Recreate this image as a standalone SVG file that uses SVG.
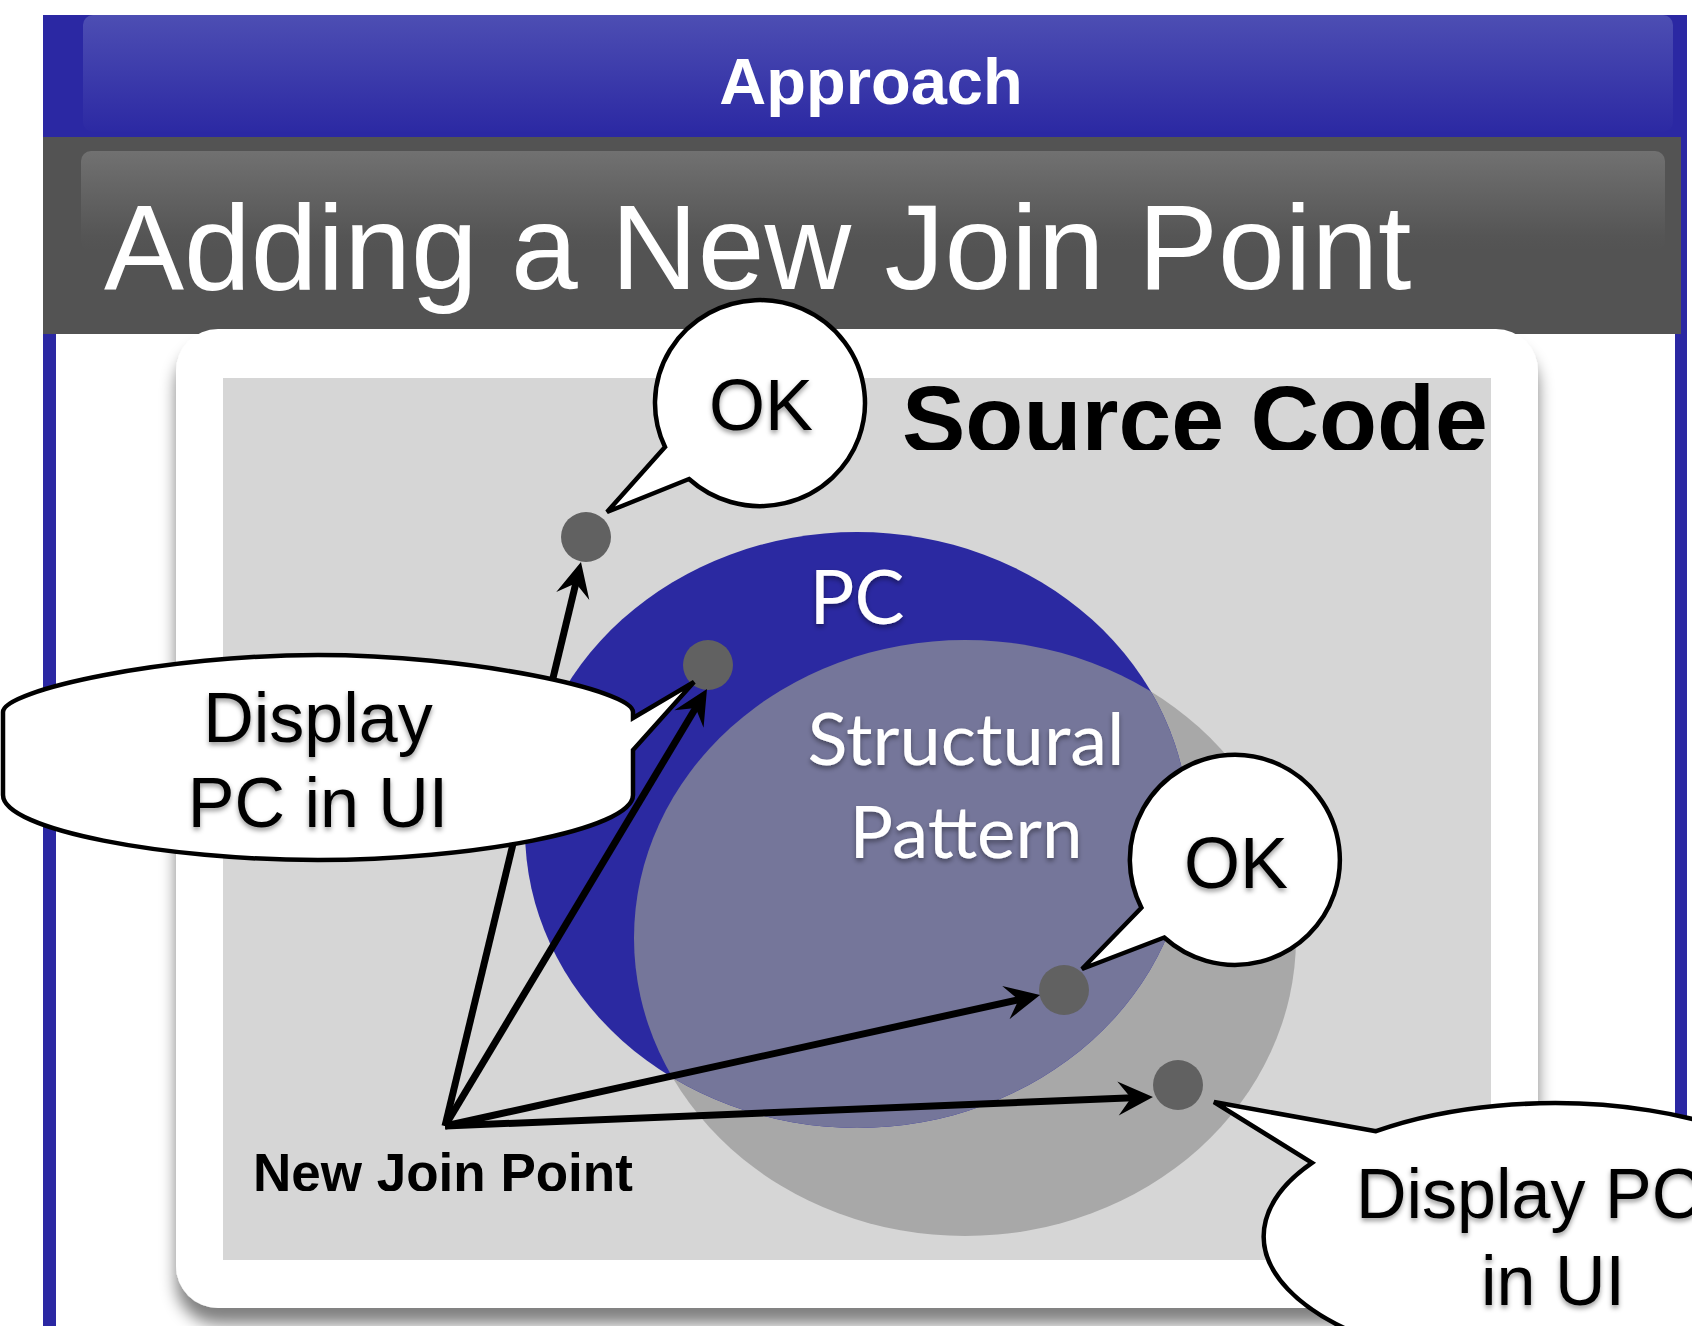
<svg xmlns="http://www.w3.org/2000/svg" width="1692" height="1326" viewBox="0 0 1692 1326">
  <style>
    .sans { font-family: "Liberation Sans", Arial, Helvetica, sans-serif; }
    .bold { font-weight: bold; }
    .gill { font-family: Lato, "Open Sans", "Noto Sans", sans-serif; fill: #ffffff; }
    .bubble { fill: #ffffff; stroke: #000000; stroke-width: 4.5; stroke-linejoin: miter; }
    .dot { fill: #616161; }
    .edge { fill: none; stroke: #000000; stroke-width: 7; stroke-linecap: butt; }
    .label { fill: #000000; }
  </style>
  <defs>
    <linearGradient id="headerGrad" x1="0" y1="0" x2="0" y2="1">
      <stop offset="0" stop-color="#4d4eb3"/>
      <stop offset="1" stop-color="#2c29a3"/>
    </linearGradient>
    <linearGradient id="titleGrad" x1="0" y1="0" x2="0" y2="1">
      <stop offset="0" stop-color="#717171"/>
      <stop offset="0.85" stop-color="#555555"/>
      <stop offset="1" stop-color="#535353"/>
    </linearGradient>
    <filter id="boxShadow" x="-10%" y="-10%" width="120%" height="125%">
      <feGaussianBlur in="SourceAlpha" stdDeviation="8"/>
      <feOffset dx="0" dy="16" result="blur"/>
      <feComponentTransfer result="shade">
        <feFuncA type="linear" slope="0.5"/>
      </feComponentTransfer>
      <feMerge>
        <feMergeNode in="shade"/>
        <feMergeNode in="SourceGraphic"/>
      </feMerge>
    </filter>
    <filter id="textShadow" x="-10%" y="-20%" width="120%" height="150%">
      <feDropShadow dx="0" dy="3" stdDeviation="2.5" flood-color="#000000" flood-opacity="0.4"/>
    </filter>
    <clipPath id="pcClip">
      <ellipse cx="857" cy="830" rx="332" ry="298"/>
    </clipPath>
    <clipPath id="sourceClip">
      <rect x="223" y="378" width="1268" height="72"/>
    </clipPath>
    <clipPath id="joinClip">
      <rect x="223" y="1140" width="700" height="51"/>
    </clipPath>
    <marker id="head" markerUnits="userSpaceOnUse" markerWidth="60" markerHeight="60"
            refX="0" refY="0" orient="auto" overflow="visible">
      <path d="M 20,0 L -15,-17 L -2,0 L -15,17 Z" fill="#000000"/>
    </marker>
  </defs>

  <!-- page and slide frame -->
  <rect x="0" y="0" width="1692" height="1326" fill="#ffffff"/>
  <rect x="43" y="15" width="1644" height="1311" fill="#2b28a3"/>
  <rect x="56" y="137" width="1619" height="1189" fill="#ffffff"/>

  <!-- header band -->
  <rect x="83" y="15" width="1590" height="117" rx="10" fill="url(#headerGrad)"/>
  <text class="sans bold" x="871" y="104" font-size="65" fill="#ffffff" text-anchor="middle">Approach</text>

  <!-- title band -->
  <rect x="43" y="137" width="1638" height="197" fill="#535353"/>
  <rect x="81" y="151" width="1584" height="100" rx="10" fill="url(#titleGrad)"/>
  <text class="sans" x="104" y="289" font-size="120" fill="#ffffff">Adding a New Join Point</text>

  <!-- source code panel -->
  <rect x="176" y="329" width="1362" height="979" rx="42" fill="#ffffff" filter="url(#boxShadow)"/>
  <rect x="223" y="378" width="1268" height="882" fill="#d6d6d6"/>
  <text class="sans bold label" x="902" y="452" font-size="95" clip-path="url(#sourceClip)">Source Code</text>
  <text class="sans bold label" x="253" y="1191" font-size="53" clip-path="url(#joinClip)">New Join Point</text>

  <!-- pointcut and structural pattern sets -->
  <g id="structural-pattern">
    <ellipse cx="965" cy="938" rx="331" ry="298" fill="#a8a8a8"/>
  </g>
  <g id="pc">
    <ellipse cx="857" cy="830" rx="332" ry="298" fill="#2b29a1"/>
    <ellipse cx="965" cy="938" rx="331" ry="298" fill="#75769a" clip-path="url(#pcClip)"/>
    <text class="gill" x="857" y="624" font-size="76" text-anchor="middle" textLength="95" lengthAdjust="spacingAndGlyphs" filter="url(#textShadow)">PC</text>
  </g>
  <g id="structural-pattern-label">
    <text class="gill" x="966" y="765" font-size="72" text-anchor="middle" textLength="317" lengthAdjust="spacingAndGlyphs" filter="url(#textShadow)">Structural</text>
    <text class="gill" x="966" y="858" font-size="72" text-anchor="middle" textLength="233" lengthAdjust="spacingAndGlyphs" filter="url(#textShadow)">Pattern</text>
  </g>

  <!-- join points -->
  <g id="jp-outside"><circle class="dot" cx="586" cy="537" r="25"/></g>
  <g id="jp-pc"><circle class="dot" cx="708" cy="665" r="25"/></g>
  <g id="jp-both"><circle class="dot" cx="1064" cy="990" r="25"/></g>
  <g id="jp-pattern"><circle class="dot" cx="1178" cy="1085" r="25"/></g>
  <g id="new-join-point"><circle cx="445" cy="1126" r="0.1" fill="#000000"/></g>

  <!-- arrows from the new join point -->
  <g id="connectors">
    <line class="edge" x1="445" y1="1126" x2="576.3" y2="581.4" stroke-width="6.5" marker-end="url(#head)"/>
    <line class="edge" x1="445" y1="1126" x2="696.7" y2="706.2" marker-end="url(#head)"/>
    <line class="edge" x1="445" y1="1126" x2="1020.5" y2="999.3" marker-end="url(#head)"/>
    <line class="edge" x1="445" y1="1126" x2="1133" y2="1097.8" marker-end="url(#head)"/>
  </g>

  <!-- speech bubbles -->
  <g id="bubble-ok-top">
    <path class="bubble" d="M 665,447 L 607,512 L 689,479 A 105 103 0 1 0 665,447 Z"/>
    <text class="sans label" x="761" y="430" font-size="72" text-anchor="middle" filter="url(#textShadow)">OK</text>
  </g>
  <g id="bubble-display-left">
    <path class="bubble" d="M 633,718 L 633,712 C 633,690 470,655 318,655 C 166,655 3,690 3,712 L 3,795 C 3,830 166,860 318,860 C 470,860 633,830 633,795 L 633,750 L 694,682 Z"/>
    <text class="sans label" x="318" y="742" font-size="70" text-anchor="middle" filter="url(#textShadow)">Display</text>
    <text class="sans label" x="318" y="827" font-size="70" text-anchor="middle" filter="url(#textShadow)">PC in UI</text>
  </g>
  <g id="bubble-ok-right">
    <path class="bubble" d="M 1141.4,907.7 L 1082,969 L 1164.2,937.5 A 105 105 0 1 0 1141.4,907.7 Z"/>
    <text class="sans label" x="1236" y="888" font-size="72" text-anchor="middle" filter="url(#textShadow)">OK</text>
  </g>
  <g id="bubble-display-right">
    <path class="bubble" d="M 1376,1131.2 L 1214,1102 L 1312,1162.8 A 291 133 0 1 0 1376,1131.2 Z"/>
    <text class="sans label" x="1356" y="1218" font-size="70" filter="url(#textShadow)">Display PC</text>
    <text class="sans label" x="1481" y="1305" font-size="70" filter="url(#textShadow)">in UI</text>
  </g>
</svg>
